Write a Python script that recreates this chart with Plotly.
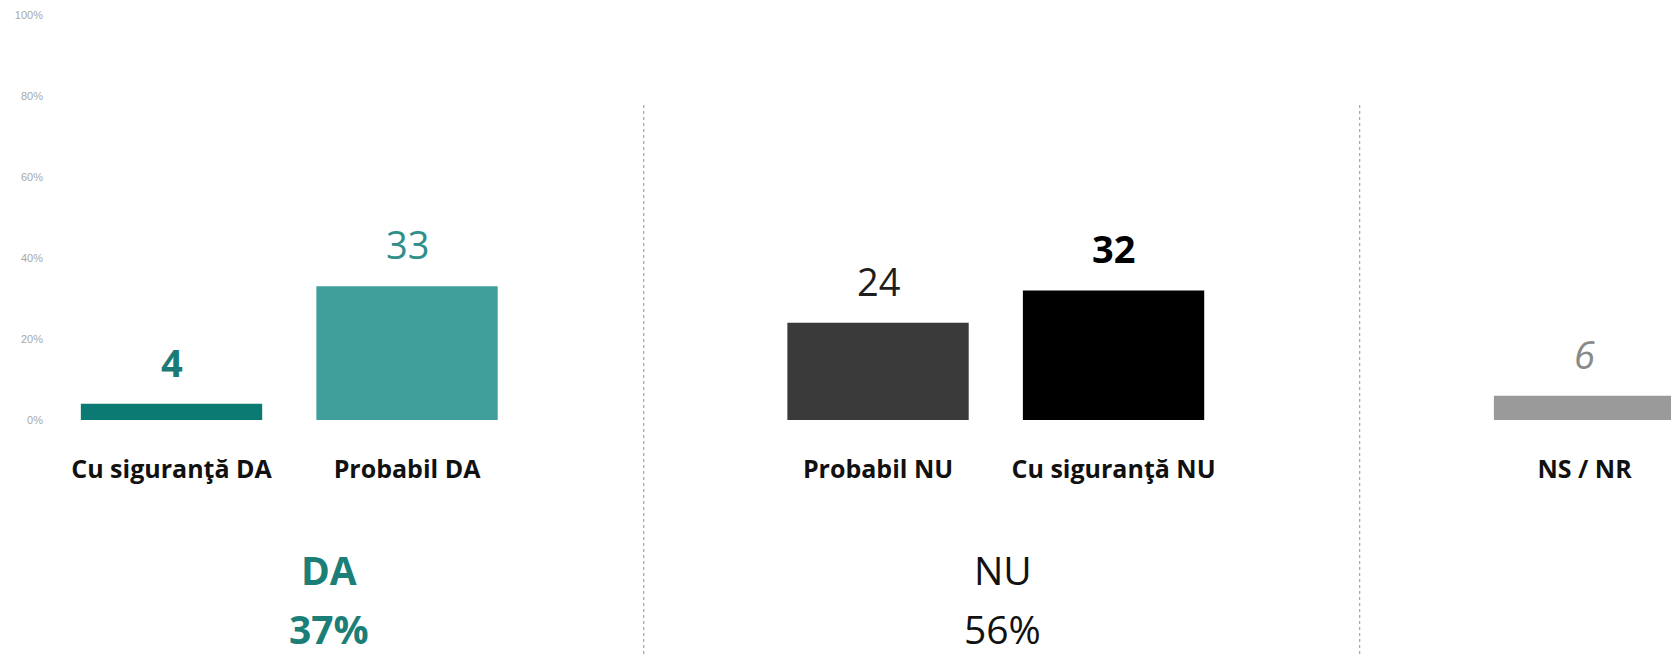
import plotly.graph_objects as go

# ---- data ----
categories = ["Cu siguranţă DA", "Probabil DA", "Probabil NU", "Cu siguranţă NU", "NS / NR"]
values = [4, 33, 24, 32, 6]
slots = [0, 1, 3, 4, 6]
bar_colors = ["#0b7a72", "#3f9f9b", "#3a3a3a", "#000000", "#9a9a9a"]
label_colors = ["#1b7a73", "#2f8f8a", "#1e1e1e", "#000000", "#8a8a8a"]
label_styles = [("bold", "normal"), ("normal", "normal"), ("normal", "normal"),
                ("bold", "normal"), ("normal", "italic")]
groups = ["DA", "NU"]
group_members = [[0, 1], [2, 3]]
group_colors = ["#1b7f78", "#111111"]
group_weights = ["bold", "normal"]
group_x = [0.67, 3.53]
divider_slots = [2.0, 5.04]
y_ticks = [0, 20, 40, 60, 80, 100]

FONT = "Open Sans"
XMIN, XMAX = -0.516, 6.401

fig = go.Figure()
fig.add_trace(go.Bar(
    x=slots, y=values, width=0.77,
    marker=dict(color=bar_colors, line=dict(width=0)),
    hoverinfo="skip",
))

annotations = []
for s, v, c, (w, st) in zip(slots, values, label_colors, label_styles):
    annotations.append(dict(
        x=s, y=v, xref="x", yref="y", text=str(v), showarrow=False,
        yanchor="middle", yshift=42,
        font=dict(family=FONT, size=38, color=c, weight=w, style=st),
    ))

for g, members, c, w, gx in zip(groups, group_members, group_colors, group_weights, group_x):
    total = sum(values[i] for i in members)
    annotations.append(dict(
        x=gx, y=-0.37, xref="x", yref="paper", text=g, showarrow=False,
        yanchor="middle", font=dict(family=FONT, size=39, color=c, weight=w),
    ))
    annotations.append(dict(
        x=gx, y=-0.515, xref="x", yref="paper", text=f"{total}%", showarrow=False,
        yanchor="middle", font=dict(family=FONT, size=39, color=c, weight=w),
    ))

shapes = []
for d in divider_slots:
    px = (d + 0.005 - XMIN) / (XMAX - XMIN)
    shapes.append(dict(
        type="line", xref="paper", yref="paper", x0=px, x1=px, y0=0.778, y1=-0.58,
        line=dict(color="#a5a5a5", width=1.2, dash="dot"),
    ))

# page body has an 8px default margin, so the figure is 8px smaller on each axis
fig.update_layout(
    width=1671, height=653,
    margin=dict(l=42, r=0, t=7, b=241),
    paper_bgcolor="white", plot_bgcolor="white",
    showlegend=False,
    annotations=annotations, shapes=shapes,
    xaxis=dict(
        range=[XMIN, XMAX], tickmode="array", tickvals=slots, ticktext=categories,
        showgrid=False, zeroline=False, showline=False, ticks="",
        tickfont=dict(family=FONT, size=25, color="#111111", weight="bold"),
        ticklabelstandoff=32,
    ),
    yaxis=dict(
        range=[0, 100], tickmode="array", tickvals=y_ticks,
        ticktext=[f"{t}%" for t in y_ticks],
        showgrid=False, zeroline=False, showline=False, ticks="",
        tickfont=dict(family="Liberation Sans", size=11, color="#a8a8a8"),
        ticklabelstandoff=6,
    ),
)

fig.write_html("out.html")
